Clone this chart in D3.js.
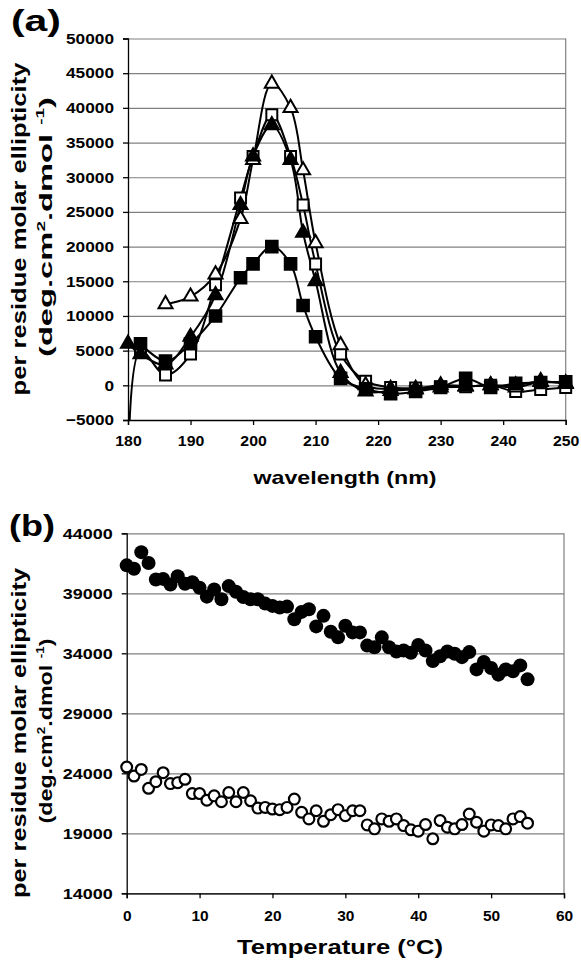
<!DOCTYPE html>
<html>
<head>
<meta charset="utf-8">
<script src="https://cdn.jsdelivr.net/npm/d3@7"></script>
<style>
  body { margin: 0; background: #fff; }
  text { font-family: "Liberation Sans", Arial, sans-serif; font-weight: bold; fill: #000; }
</style>
</head>
<body>
<div id="chart"></div>
<script>
// panel (a): CD spectra
var waveAll = [180, 182, 186, 190, 194, 198, 200, 203, 206, 208, 210, 214, 218, 222, 226, 230, 234, 238, 242, 246, 250];
var waveNo180 = [182, 186, 190, 194, 198, 200, 203, 206, 208, 210, 214, 218, 222, 226, 230, 234, 238, 242, 246, 250];
var waveOpenTri = [186, 190, 194, 198, 200, 203, 206, 208, 210, 214, 218, 222, 226, 230, 234, 238, 242, 246, 250];

var openSquare = [-16000, 5000, 1500, 4500, 14500, 27000, 33000, 39000, 33000, 26000, 17500, 4500, 600, -300, -400, -200, -200, 0, -900, -600, -300];
var openTriangle = [11700, 12800, 16000, 24000, 32500, 43500, 40000, 31000, 20500, 5800, 0, -500, -600, -300, -200, 0, -300, 500, 300];
var filledTriangle = [6000, 4500, 3000, 7000, 13000, 26000, 33000, 37500, 32500, 22000, 15000, 1800, -900, -800, -500, 0, -100, 0, 0, 600, 200];
var filledSquare = [6000, 3500, 6000, 10000, 15500, 17500, 20000, 17500, 11500, 7000, 1000, -500, -1200, -900, -300, 1000, -300, 300, 400, 500];

var xTicksA = [180, 190, 200, 210, 220, 230, 240, 250];
var yTicksA = [-5000, 0, 5000, 10000, 15000, 20000, 25000, 30000, 35000, 40000, 45000, 50000];

// panel (b): thermal melt
var temperature = [0, 1, 2, 3, 4, 5, 6, 7, 8, 9, 10, 11, 12, 13, 14, 15, 16, 17, 18, 19,
  20, 21, 22, 23, 24, 25, 26, 27, 28, 29, 30, 31, 32, 33, 34, 35, 36, 37, 38, 39,
  40, 41, 42, 43, 44, 45, 46, 47, 48, 49, 50, 51, 52, 53, 54, 55];
var filledCircle = [41330, 41050, 42430, 41520, 40150, 40200, 39730, 40420, 39790, 39930,
  39460, 38720, 39320, 38500, 39600, 39130, 38690, 38500, 38500, 38140,
  37950, 37810, 37890, 36840, 37450, 37670, 36240, 37120, 35800, 35330,
  36290, 35740, 35740, 34640, 34500, 35330, 34500, 34150, 34230, 34040,
  34700, 34230, 33350, 33760, 34150, 33960, 33680, 34100, 32660, 33270,
  32770, 32220, 32660, 32500, 32990, 31830];
var openCircle = [24520, 23770, 24320, 22750, 23300, 24050, 23140, 23220, 23500, 22310,
  22310, 21760, 22120, 21630, 22400, 21630, 22400, 21710, 21100, 21160,
  21020, 20970, 21160, 21850, 20750, 20200, 20880, 20000, 20550, 20970,
  20470, 20880, 20880, 19700, 19370, 20200, 20000, 20200, 19640, 19290,
  19180, 19730, 18540, 20060, 19510, 19370, 19730, 20610, 19920, 19180,
  19700, 19640, 19370, 20200, 20390, 19840];

var xTicksB = [0, 10, 20, 30, 40, 50, 60];
var yTicksB = [14000, 19000, 24000, 29000, 34000, 39000, 44000];

var svg = d3.select("#chart").append("svg")
  .attr("width", 581)
  .attr("height", 965);

function zip(xs, ys) {
  return xs.map(function(x, i) { return { x: x, y: ys[i] }; });
}

// wide, slightly stretched tick labels like the scanned figure
function stretch(sel, perChar) {
  sel.style("font-size", "15px")
    .attr("fill", "#000")
    .attr("lengthAdjust", "spacingAndGlyphs")
    .attr("textLength", function() { return this.textContent.length * perChar; });
}

function frame(g, x, y, xTicks, yTicks, xPad, yChar, xChar, id) {
  var left = x.range()[0], right = x.range()[1];
  var bottom = y.range()[0], top = y.range()[1];

  g.append("g")
    .attr("transform", `translate(${left},0)`)
    .call(d3.axisLeft(y).tickValues(yTicks).tickSize(-(right - left)).tickFormat(""))
    .call(s => s.select(".domain").remove())
    .call(s => s.selectAll("line").attr("stroke", "#808080").attr("stroke-width", 1.2));

  g.append("line")
    .attr("x1", right).attr("x2", right)
    .attr("y1", top).attr("y2", bottom)
    .attr("stroke", "#808080").attr("stroke-width", 1.2);

  var yAx = g.append("g")
    .attr("transform", `translate(${left},0)`)
    .call(d3.axisLeft(y).tickValues(yTicks).tickSize(5).tickPadding(9).tickFormat(d3.format("d")));
  stretch(yAx.selectAll("text"), yChar);

  var xAx = g.append("g")
    .attr("transform", `translate(0,${bottom})`)
    .call(d3.axisBottom(x).tickValues(xTicks).tickSize(5).tickPadding(xPad).tickFormat(d3.format("d")));
  stretch(xAx.selectAll("text"), xChar);

  yAx.selectAll(".domain, .tick line").attr("stroke", "#000").attr("stroke-width", 1.3);
  xAx.selectAll(".domain, .tick line").attr("stroke", "#000").attr("stroke-width", 1.3);

  g.append("clipPath").attr("id", id)
    .append("rect")
    .attr("x", left).attr("y", top)
    .attr("width", right - left).attr("height", bottom - top);
}

function yTitle(cy1, len1, cy2, len2, size1) {
  svg.append("text")
    .attr("transform", `translate(26,${cy1}) rotate(-90)`)
    .attr("text-anchor", "middle")
    .attr("textLength", len1).attr("lengthAdjust", "spacingAndGlyphs")
    .style("font-size", size1 + "px")
    .text("per residue molar ellipticity");
  var t = svg.append("text")
    .attr("transform", `translate(52,${cy2}) rotate(-90)`)
    .attr("text-anchor", "middle")
    .attr("textLength", len2).attr("lengthAdjust", "spacingAndGlyphs")
    .style("font-size", "19px");
  t.append("tspan").text("(deg.cm");
  t.append("tspan").text("2").attr("dy", -7).style("font-size", "11px");
  t.append("tspan").text(".dmol ").attr("dy", 7);
  t.append("tspan").text("-1").attr("dy", -8).style("font-size", "11px");
  t.append("tspan").text(")").attr("dy", 8);
}

// ---------- panel (a) ----------
var xa = d3.scaleLinear().domain([180, 250]).range([128, 565.7]);
var ya = d3.scaleLinear().domain([-5000, 50000]).range([420, 38.5]);
var ga = svg.append("g");
frame(ga, xa, ya, xTicksA, yTicksA, 10, 9.6, 8.8, "clipA");

var lineA = d3.line()
  .x(d => xa(d.x))
  .y(d => ya(d.y))
  .curve(d3.curveCatmullRom.alpha(0.5));

var seriesA = [
  { data: zip(waveAll, openSquare), shape: d3.symbolSquare, size: 120, fill: "#fff" },
  { data: zip(waveOpenTri, openTriangle), shape: d3.symbolTriangle, size: 85, fill: "#fff" },
  { data: zip(waveAll, filledTriangle), shape: d3.symbolTriangle, size: 85, fill: "#000" },
  { data: zip(waveNo180, filledSquare), shape: d3.symbolSquare, size: 135, fill: "#000" }
];

seriesA.forEach(function(s) {
  ga.append("path")
    .datum(s.data)
    .attr("clip-path", "url(#clipA)")
    .attr("d", lineA)
    .attr("fill", "none")
    .attr("stroke", "#000")
    .attr("stroke-width", 2);
});

seriesA.forEach(function(s) {
  ga.selectAll(null)
    .data(s.data.filter(d => d.y >= -5000))
    .enter()
    .append("path")
    .attr("transform", d => `translate(${xa(d.x)},${ya(d.y)})`)
    .attr("d", d3.symbol().type(s.shape).size(s.size))
    .attr("fill", s.fill)
    .attr("stroke", "#000")
    .attr("stroke-width", 2);
});

svg.append("text")
  .attr("x", 11).attr("y", 31)
  .attr("textLength", 50).attr("lengthAdjust", "spacingAndGlyphs")
  .style("font-size", "30px")
  .text("(a)");

yTitle(229, 333, 227, 260, 20);

svg.append("text")
  .attr("x", 345).attr("y", 484)
  .attr("text-anchor", "middle")
  .attr("textLength", 183).attr("lengthAdjust", "spacingAndGlyphs")
  .style("font-size", "19px")
  .text("wavelength (nm)");

// ---------- panel (b) ----------
var xb = d3.scaleLinear().domain([0, 60]).range([126.7, 564]);
var yb = d3.scaleLinear().domain([14000, 44000]).range([893.3, 533.3]);
var gb = svg.append("g");
frame(gb, xb, yb, xTicksB, yTicksB, 12, 10, 8.6, "clipB");

gb.selectAll(null)
  .data(zip(temperature, filledCircle))
  .enter()
  .append("circle")
  .attr("cx", d => xb(d.x))
  .attr("cy", d => yb(d.y))
  .attr("r", 7)
  .attr("fill", "#000");

gb.selectAll(null)
  .data(zip(temperature, openCircle))
  .enter()
  .append("circle")
  .attr("cx", d => xb(d.x))
  .attr("cy", d => yb(d.y))
  .attr("r", 5.4)
  .attr("fill", "#fff")
  .attr("stroke", "#000")
  .attr("stroke-width", 2.2);

svg.append("text")
  .attr("x", 9).attr("y", 536)
  .attr("textLength", 46).attr("lengthAdjust", "spacingAndGlyphs")
  .style("font-size", "30px")
  .text("(b)");

yTitle(733, 330, 731, 185, 21);

svg.append("text")
  .attr("x", 340).attr("y", 954)
  .attr("text-anchor", "middle")
  .attr("textLength", 206).attr("lengthAdjust", "spacingAndGlyphs")
  .style("font-size", "20px")
  .text("Temperature (°C)");
</script>
</body>
</html>
